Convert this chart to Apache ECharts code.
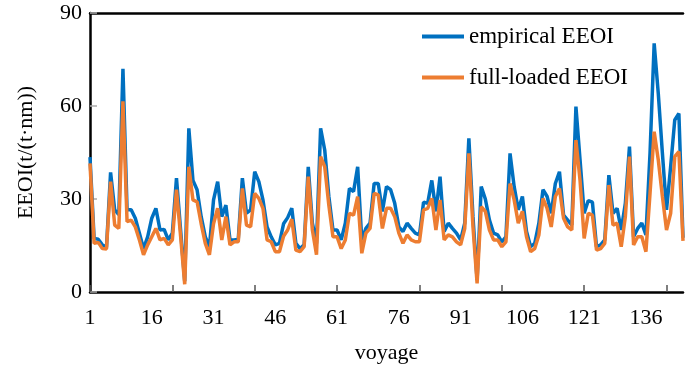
<!DOCTYPE html>
<html>
<head>
<meta charset="utf-8">
<script src="https://cdn.jsdelivr.net/npm/echarts@6/dist/echarts.min.js"></script>
<style>
  html, body { margin: 0; padding: 0; background: #fff; }
  #chart { width: 685px; height: 371px; }
</style>
</head>
<body>
<div id="chart"></div>
<script>
// voyage numbers 1..145
const voyages = Array.from({ length: 145 }, (_, i) => String(i + 1));

const empiricalEEOI = [
  43.5, 17.3, 17, 15.2, 14.4, 38.6, 26.5, 25, 72, 26.5,
  26.5, 23.8, 19, 14, 17.8, 23.8, 27, 20, 20.2, 16.8,
  19, 36.7, 20, 3.5, 52.8, 36, 33, 24.3, 17.8, 14.6,
  29.7, 35.6, 24.3, 28, 16.8, 16.8, 17, 36.7, 25.4, 26.5,
  38.8, 35.6, 29.7, 21, 17.8, 15.2, 15.7, 22, 24, 27,
  15.7, 14, 15.2, 40.4, 22.2, 15.7, 52.8, 45.8, 30.8, 20,
  20, 16.8, 22.2, 33.4, 32.4, 40.4, 16.8, 20.5, 22.2, 35,
  35, 26, 34, 33, 28.6, 21, 19.5, 22.2, 20.5, 19,
  18.4, 29, 28.6, 36, 26, 37.2, 19.5, 22.2, 20.5, 19,
  16.8, 22.2, 49.6, 24.3, 3.8, 34, 30, 23.2, 19, 18.4,
  16.2, 17.8, 44.7, 34, 26.5, 30.8, 19.5, 14.6, 15.7, 22.2,
  33, 30.8, 25.4, 35, 38.8, 24.8, 23.2, 21.6, 59.8, 42.6,
  25.4, 29.5, 29, 14.6, 15.2, 16.8, 37.7, 25.4, 27, 20,
  28.6, 46.9, 17.8, 20.5, 22.2, 18.4, 45, 80.2, 64, 44.7,
  26.5, 40.4, 55.5, 57.6, 17.5
];

const fullLoadedEEOI = [
  41.5, 15.7, 16, 14, 13.9, 35.6, 21.6, 20.5, 61.5, 22.7,
  23.2, 21, 16.8, 12, 15.2, 17.8, 20.5, 16.8, 17.3, 15.2,
  16.8, 33, 18, 2.5, 40.4, 29.7, 29.1, 22, 15.7, 12,
  22, 27, 16.8, 24.3, 15.2, 16.2, 16.2, 33.4, 21.6, 21,
  31.8, 30.2, 27, 16.8, 16.2, 13, 13, 18, 20, 23.5,
  13.5, 13, 14.6, 37.2, 20, 12, 43.7, 40.4, 28, 17.8,
  17.8, 14, 16.8, 25.4, 24.8, 30.8, 12.5, 19, 20.5, 31.8,
  31.3, 20.5, 27, 27, 24.3, 19, 15.7, 18.4, 16.8, 16.2,
  16.2, 26.5, 27, 30.2, 20, 29.7, 16.8, 18.4, 17.8, 16.2,
  15.2, 20.5, 44.7, 21, 2.8, 27.5, 26, 20, 16.8, 16.8,
  14.6, 16.2, 35, 29.7, 22.2, 26, 17.8, 13, 14, 18.4,
  30.2, 27, 21, 30.8, 33.4, 23.8, 21, 20, 49, 36,
  17.3, 25.4, 24.8, 13.5, 14, 15.7, 34.5, 21.6, 22.2, 14.6,
  24.3, 43.7, 15.2, 17.8, 17.8, 13, 32, 51.7, 42.6, 30.8,
  20, 25.4, 43.7, 45.3, 16.5
];

const yMin = 0;
const yMax = 90;
const yStep = 30;

const fontFamily = "'Liberation Serif', 'DejaVu Serif', serif";

const chart = echarts.init(document.getElementById("chart"));
chart.setOption({
  animation: false,
  color: ["#0070c0", "#ed7d31"],
  grid: {
    left: 90,
    right: 2,
    top: 13,
    bottom: 79,
    containLabel: false,
    outerBoundsMode: "none"
  },
  legend: {
    orient: "vertical",
    left: 417,
    top: 20,
    icon: "rect",
    itemWidth: 42,
    itemHeight: 4,
    itemGap: 18,
    textStyle: {
      fontFamily,
      fontSize: 23,
      lineHeight: 22,
      color: "#000"
    },
    data: ["empirical EEOI", "full-loaded EEOI"]
  },
  xAxis: [
    {
      type: "category",
      data: voyages,
      boundaryGap: false,
      name: "voyage",
      nameLocation: "middle",
      nameGap: 50,
      nameTextStyle: { fontFamily, fontSize: 22, color: "#000" },
      axisLine: { lineStyle: { color: "#000", width: 2.5 } },
      axisTick: {
        inside: true,
        interval: 19,
        length: 7,
        lineStyle: { color: "#555", width: 1.5 }
      },
      axisLabel: {
        interval: 14,
        margin: 15,
        fontFamily,
        fontSize: 22,
        color: "#000"
      },
      splitLine: { show: false }
    },
    {
      // top frame line
      type: "category",
      data: voyages,
      boundaryGap: false,
      position: "top",
      axisLine: { lineStyle: { color: "#000", width: 2.5 } },
      axisTick: { show: false },
      axisLabel: { show: false },
      splitLine: { show: false }
    }
  ],
  yAxis: {
    type: "value",
    min: yMin,
    max: yMax,
    interval: yStep,
    name: "EEOI(t/(t·nm))",
    nameLocation: "middle",
    nameGap: 53,
    nameTextStyle: { fontFamily, fontSize: 22, color: "#000" },
    axisLine: { show: true, lineStyle: { color: "#000", width: 2.5 } },
    axisTick: {
      show: true,
      inside: true,
      length: 7,
      lineStyle: { color: "#aaa", width: 1.5 }
    },
    axisLabel: { margin: 8, fontFamily, fontSize: 22, color: "#000" },
    splitLine: { show: false }
  },
  series: [
    {
      name: "empirical EEOI",
      type: "line",
      data: empiricalEEOI,
      symbol: "none",
      lineStyle: { width: 3.5, color: "#0070c0" }
    },
    {
      name: "full-loaded EEOI",
      type: "line",
      data: fullLoadedEEOI,
      symbol: "none",
      lineStyle: { width: 3.5, color: "#ed7d31" }
    }
  ]
});
</script>
</body>
</html>
